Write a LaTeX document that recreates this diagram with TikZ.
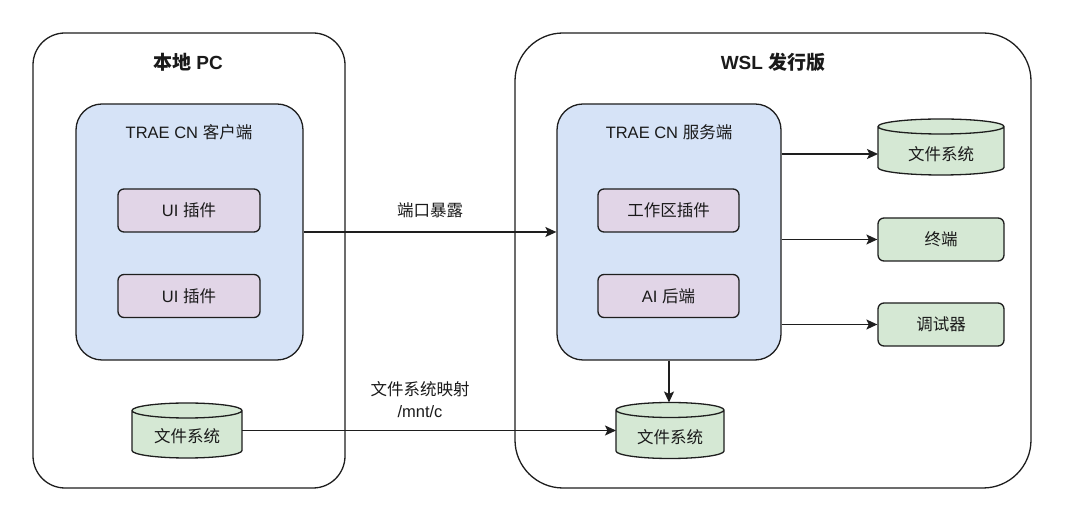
\documentclass[tikz,border=0pt]{standalone}
\usepackage{fontspec}
\setmainfont{Liberation Sans}
\newfontfamily\cjk{Noto Sans CJK SC}
\usetikzlibrary{arrows.meta,calc}
\definecolor{bluef}{HTML}{D6E3F7}
\definecolor{purplef}{HTML}{E1D5E7}
\definecolor{greenf}{HTML}{D5E8D4}
\definecolor{ln}{HTML}{1E1E1E}
\definecolor{txt}{HTML}{1A1A1A}
\newcommand\cylshape[1]{%
 \filldraw[cyl] let \p1=(#1.south west),\p2=(#1.north east),\n1={(\x2-\x1)/2} in
 (\x1,\y2-7.5pt) -- (\x1,\y1+7.5pt) arc[start angle=180,end angle=360,x radius=\n1,y radius=7.5pt] -- (\x2,\y2-7.5pt) arc[start angle=0,end angle=180,x radius=\n1,y radius=7.5pt] -- cycle
 (\x1,\y2-7.5pt) arc[start angle=180,end angle=360,x radius=\n1,y radius=7.5pt];}
\begin{document}
\begin{tikzpicture}[x=1pt,y=1pt,
  every node/.style={font=\fontsize{16.5}{22}\selectfont, text=txt},
  container/.style={draw=ln, line width=1.3pt, fill=white},
  titlebox/.style={font=\fontsize{19}{22}\selectfont\bfseries},
  bigbox/.style={draw=ln, line width=1.3pt, fill=bluef, rounded corners=26pt},
  plug/.style={draw=ln, line width=1.3pt, fill=purplef, rounded corners=6pt},
  gbox/.style={draw=ln, line width=1.3pt, fill=greenf, rounded corners=6pt},
  cylnode/.style={inner sep=0pt, outer sep=0pt},
  cyl/.style={draw=ln, line width=1.3pt, fill=greenf},
  arr/.style={draw=ln, line width=1.3pt, -{Stealth[length=11pt,width=10pt,inset=2.5pt]}}]
\useasboundingbox (0,0) rectangle (1068,511);
\fill[white] (0,0) rectangle (1068,511);
% containers
\node[container, rounded corners=32pt, minimum width=312pt, minimum height=455pt] (pc) at (189,250.5) {};
\node[container, rounded corners=48pt, minimum width=516pt, minimum height=455pt] (wsl) at (773,250.5) {};
\node[titlebox] (pct) at (188,449) {{\cjk 本地} PC};
\node[titlebox] (wslt) at (773,449) {WSL {\cjk 发行版}};
% client
\node[bigbox, minimum width=227pt, minimum height=256pt] (client) at (189.5,279) {};
\node (clientt) at (189,379) {TRAE CN {\cjk 客户端}};
\node[plug, minimum width=142pt, minimum height=43pt] (ui1) at (189,300.5) {UI {\cjk 插件}};
\node[plug, minimum width=142pt, minimum height=43pt] (ui2) at (189,215) {UI {\cjk 插件}};
\node[cylnode, minimum width=110pt, minimum height=55pt] (lfs) at (187,80.5) {};
\cylshape{lfs}
\node (lfst) at ([yshift=-6pt]lfs.center) {\cjk 文件系统};
% server
\node[bigbox, minimum width=224pt, minimum height=256pt] (server) at (669,279) {};
\node (servert) at (669,379) {TRAE CN {\cjk 服务端}};
\node[plug, minimum width=141pt, minimum height=43pt] (ws) at (668.5,300.5) {\cjk 工作区插件};
\node[plug, minimum width=141pt, minimum height=43pt] (ai) at (668.5,215) {AI {\cjk 后端}};
% right column
\node[cylnode, minimum width=126pt, minimum height=56pt] (fs1) at (941,364) {};
\cylshape{fs1}
\node (fs1t) at ([yshift=-7pt]fs1.center) {\cjk 文件系统};
\node[gbox, minimum width=126pt, minimum height=43pt] (term) at (941,271.5) {\cjk 终端};
\node[gbox, minimum width=126pt, minimum height=43pt] (dbg) at (941,186.5) {\cjk 调试器};
\node[cylnode, minimum width=108pt, minimum height=56pt] (bfs) at (670,80.5) {};
\cylshape{bfs}
\node (bfst) at ([yshift=-6.5pt]bfs.center) {\cjk 文件系统};
% connectors
\draw[arr] (client.east) -- (server.west);
\node (port) at (430,301) {\cjk 端口暴露};
\draw[arr] ([yshift=-7pt]fs1.west -| server.east) -- ([yshift=-7pt]fs1.west);
\draw[arr] (term.west -| server.east) -- (term.west);
\draw[arr] (dbg.west -| server.east) -- (dbg.west);
\draw[arr] (server.south) -- (server.south |- bfs.north);
\draw[arr] (lfs.east) -- (bfs.west);
\node[align=center] (map) at (420,111) {{\cjk 文件系统映射}\\/mnt/c};
\end{tikzpicture}
\end{document}
